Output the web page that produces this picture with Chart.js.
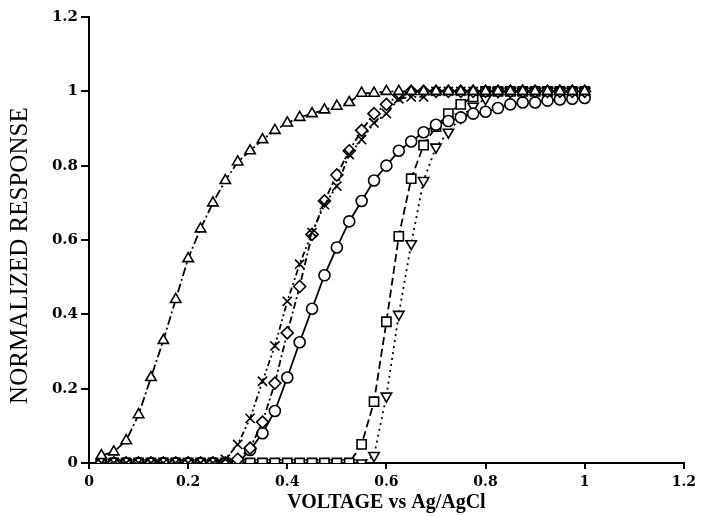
<!DOCTYPE html>
<html>
<head>
<meta charset="utf-8">
<script src="https://cdn.jsdelivr.net/npm/chart.js@4.4.1/dist/chart.umd.min.js"></script>
<style>
    html, body { margin: 0; padding: 0; background: #fff; }
    #wrap { width: 701px; height: 516px; }
</style>
</head>
<body>
<div id="wrap"><canvas id="responseChart" width="701" height="516"></canvas></div>
<script>
// x values (V vs Ag/AgCl)
const voltage = [
    0.025, 0.05, 0.075, 0.1, 0.125, 0.15, 0.175, 0.2, 0.225, 0.25,
    0.275, 0.3, 0.325, 0.35, 0.375, 0.4, 0.425, 0.45, 0.475, 0.5,
    0.525, 0.55, 0.575, 0.6, 0.625, 0.65, 0.675, 0.7, 0.725, 0.75,
    0.775, 0.8, 0.825, 0.85, 0.875, 0.9, 0.925, 0.95, 0.975, 1.0
]

// normalized response, one list per curve
const triangleResp = [
    0.02, 0.03, 0.06, 0.13, 0.23, 0.33, 0.44, 0.55, 0.63, 0.70,
    0.76, 0.81, 0.84, 0.87, 0.895, 0.915, 0.93, 0.94, 0.95, 0.96,
    0.97, 0.995, 0.995, 1, 1, 1, 1, 1, 1, 1,
    1, 1, 1, 1, 1, 1, 1, 1, 1, 1
]
const crossResp = [
    0, 0, 0, 0, 0, 0, 0, 0, 0, 0,
    0.01, 0.05, 0.12, 0.22, 0.315, 0.435, 0.535, 0.62, 0.695, 0.745,
    0.83, 0.87, 0.915, 0.94, 0.98, 0.985, 0.985, 1, 1, 1,
    1, 1, 1, 1, 1, 1, 1, 1, 1, 1
]
const diamondResp = [
    0, 0, 0, 0, 0, 0, 0, 0, 0, 0,
    0, 0.01, 0.04, 0.11, 0.215, 0.35, 0.475, 0.615, 0.705, 0.775,
    0.84, 0.895, 0.94, 0.965, 0.99, 1, 1, 1, 1, 1,
    1, 1, 1, 1, 1, 1, 1, 1, 1, 1
]
const circleResp = [
    0, 0, 0, 0, 0, 0, 0, 0, 0, 0,
    0, 0, 0.035, 0.08, 0.14, 0.23, 0.325, 0.415, 0.505, 0.58,
    0.65, 0.705, 0.76, 0.80, 0.84, 0.865, 0.89, 0.91, 0.92, 0.93,
    0.94, 0.945, 0.955, 0.965, 0.97, 0.97, 0.975, 0.978, 0.98, 0.982
]
const squareResp = [
    0, 0, 0, 0, 0, 0, 0, 0, 0, 0,
    0, 0, 0, 0, 0, 0, 0, 0, 0, 0,
    0, 0.05, 0.165, 0.38, 0.61, 0.765, 0.855, 0.905, 0.94, 0.965,
    0.985, 1, 1, 1, 1, 1, 1, 1, 1, 1
]
const downTriResp = [
    0, 0, 0, 0, 0, 0, 0, 0, 0, 0,
    0, 0, 0, 0, 0, 0, 0, 0, 0, 0,
    0, 0, 0.02, 0.18, 0.40, 0.59, 0.76, 0.85, 0.89, 0.93,
    0.96, 0.98, 1, 1, 1, 1, 1, 1, 1, 1
]

// axis ticks
const xTickValues = [0, 0.2, 0.4, 0.6, 0.8, 1, 1.2]
const xTickLabels = ['0', '0.2', '0.4', '0.6', '0.8', '1', '1.2']
const yTickValues = [0, 0.2, 0.4, 0.6, 0.8, 1, 1.2]
const yTickLabels = ['0', '0.2', '0.4', '0.6', '0.8', '1', '1.2']

const toPoints = (ys) => voltage.map((x, i) => ({ x: x, y: ys[i] }))

function makeSeries(ys, style, size, dash, rotation) {
    return {
        data: toPoints(ys),
        showLine: true,
        borderColor: '#000',
        borderWidth: 1.8,
        borderDash: dash,
        pointStyle: style,
        rotation: rotation || 0,
        pointRadius: size,
        pointBorderWidth: 1.6,
        pointBorderColor: '#000',
        pointBackgroundColor: '#fff',
        tension: 0
    }
}

const axisFont = { family: 'DejaVu Serif', weight: 'bold', size: 14 }

new Chart(document.getElementById('responseChart'), {
    type: 'scatter',
    data: {
        datasets: [
            makeSeries(triangleResp, 'triangle', 6, [9, 3, 2, 3]),
            makeSeries(crossResp, 'crossRot', 6.5, [6, 3, 2, 3, 2, 3]),
            makeSeries(diamondResp, 'rectRot', 6, [7, 3, 2, 3]),
            makeSeries(circleResp, 'circle', 5.5, []),
            makeSeries(squareResp, 'rect', 6.5, [8, 4]),
            makeSeries(downTriResp, 'triangle', 6, [2, 4], 180)
        ]
    },
    options: {
        responsive: false,
        animation: false,
        devicePixelRatio: 1,
        layout: { padding: { top: 17, right: 13, left: 0, bottom: 0 } },
        plugins: {
            legend: { display: false },
            tooltip: { enabled: false }
        },
        scales: {
            x: {
                type: 'linear',
                min: 0,
                max: 1.2,
                afterBuildTicks: (scale) => {
                    scale.ticks = xTickValues.map((v) => ({ value: v }))
                },
                afterFit: (scale) => {
                    scale.height = 53
                },
                ticks: {
                    callback: (value, index) => xTickLabels[index],
                    color: '#000',
                    font: axisFont,
                    padding: 5,
                    maxRotation: 0,
                    autoSkip: false
                },
                grid: {
                    drawOnChartArea: false,
                    drawTicks: true,
                    tickLength: 6,
                    color: '#000',
                    lineWidth: 2
                },
                border: { display: true, color: '#000', width: 2 },
                title: {
                    display: true,
                    text: 'VOLTAGE vs Ag/AgCl',
                    color: '#000',
                    font: { family: 'Liberation Serif', weight: 'bold', size: 20 },
                    padding: { top: 0, bottom: 1 }
                }
            },
            y: {
                type: 'linear',
                min: 0,
                max: 1.2,
                afterBuildTicks: (scale) => {
                    scale.ticks = yTickValues.map((v) => ({ value: v }))
                },
                afterFit: (scale) => {
                    scale.width = 89
                },
                ticks: {
                    callback: (value, index) => yTickLabels[index],
                    color: '#000',
                    font: { family: 'DejaVu Serif', weight: 'bold', size: 15 },
                    padding: 3,
                    autoSkip: false
                },
                grid: {
                    drawOnChartArea: false,
                    drawTicks: true,
                    tickLength: 8,
                    color: '#000',
                    lineWidth: 2
                },
                border: { display: true, color: '#000', width: 2 },
                title: {
                    display: true,
                    // trailing spaces nudge the label down like the original
                    text: 'NORMALIZED RESPONSE     ',
                    color: '#000',
                    font: { family: 'Liberation Serif', size: 25 },
                    padding: { top: 5, bottom: 0 }
                }
            }
        }
    }
})
</script>
</body>
</html>
